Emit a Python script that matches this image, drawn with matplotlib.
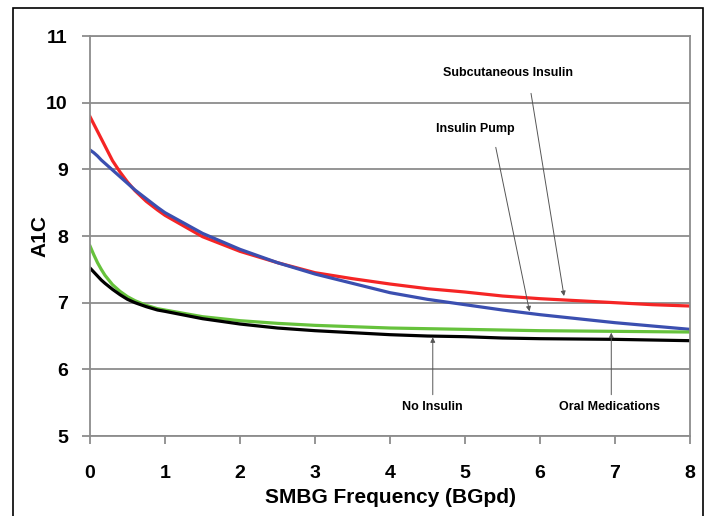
import numpy as np
import matplotlib.pyplot as plt
from matplotlib.patches import Rectangle

plt.rcParams['font.family'] = ['Liberation Sans', 'DejaVu Sans']
plt.rcParams['font.weight'] = 'bold'

# dane
x = [0, 0.05, 0.1, 0.15, 0.2, 0.3, 0.4, 0.5, 0.6, 0.75, 0.9, 1, 1.5, 2, 2.5, 3, 3.5, 4,
     4.5, 5, 5.5, 6, 6.5, 7, 7.5, 8]
subcutaneous = [9.79, 9.68, 9.57, 9.46, 9.35, 9.13, 8.96, 8.81, 8.68, 8.52, 8.39, 8.31,
                7.99, 7.77, 7.6, 7.45, 7.36, 7.28, 7.21, 7.16, 7.1, 7.06, 7.03, 7.0, 6.97, 6.95]
pump = [9.29, 9.25, 9.2, 9.14, 9.09, 8.99, 8.89, 8.79, 8.69, 8.56, 8.43, 8.35,
        8.04, 7.8, 7.6, 7.43, 7.29, 7.15, 7.05, 6.97, 6.89, 6.82, 6.76, 6.7, 6.65, 6.6]
oral = [7.85, 7.72, 7.6, 7.5, 7.41, 7.27, 7.17, 7.09, 7.03, 6.96, 6.91, 6.89,
        6.79, 6.73, 6.69, 6.66, 6.64, 6.62, 6.61, 6.6, 6.59, 6.58, 6.575, 6.57, 6.565, 6.56]
no_insulin = [7.52, 7.46, 7.4, 7.34, 7.29, 7.2, 7.12, 7.05, 7.0, 6.94, 6.89, 6.87,
              6.76, 6.68, 6.62, 6.58, 6.55, 6.52, 6.5, 6.49, 6.47, 6.46, 6.455, 6.45, 6.44, 6.43]

labels = ['Subcutaneous Insulin', 'Insulin Pump', 'No Insulin', 'Oral Medications']
label_xy = [(5.57, 10.45), (5.14, 9.6), (4.57, 5.44), (6.92, 5.44)]
arrow_start = [(5.88, 10.14), (5.41, 9.33), (4.57, 5.62), (6.95, 5.62)]
arrow_tip = [(6.32, 7.1), (5.86, 6.87), (4.57, 6.48), (6.95, 6.55)]

fig = plt.figure(figsize=(7.11, 5.16), dpi=100)
ax = fig.add_axes([0.1266, 0.155, 0.8439, 0.7752])

# ramka wokół całego rysunku
fig.patches.append(Rectangle((0.018, -0.05), 0.9705, 1.0345, transform=fig.transFigure,
                             fill=False, edgecolor='black', linewidth=1.2))

ax.plot(x, subcutaneous, color='#f52525', lw=2.3)
ax.plot(x, pump, color='#3b4fb0', lw=2.3)
ax.plot(x, oral, color='#66c23c', lw=2.3)
ax.plot(x, no_insulin, color='black', lw=2.3)

for txt, pos, start, tip in zip(labels, label_xy, arrow_start, arrow_tip):
    ax.text(pos[0], pos[1], txt, ha='center', va='center', fontsize=9, fontweight='bold')
    ax.annotate('', xy=tip, xytext=start,
                arrowprops=dict(arrowstyle='-|>', color='#555555', lw=0.7,
                                mutation_scale=7, shrinkA=0, shrinkB=0))

ax.set_xlim(0, 8)
ax.set_ylim(5, 11)
ax.set_xticks(range(0, 9))
ax.set_yticks(range(5, 12))
ax.yaxis.grid(True, color='#8c8c8c', lw=1.3)
ax.set_axisbelow(True)
for s in ['left', 'right', 'bottom', 'top']:
    ax.spines[s].set_color('#8c8c8c')
    ax.spines[s].set_linewidth(1.3)
ax.tick_params(axis='both', color='#8c8c8c', width=1.3, length=6, labelsize=14)
ax.tick_params(axis='x', pad=15)
ax.tick_params(axis='y', pad=10)

ax.set_xlabel('SMBG Frequency (BGpd)', fontsize=15, fontweight='bold', labelpad=4)
ax.set_ylabel('A1C', fontsize=15, fontweight='bold')
ax.yaxis.set_label_coords(-0.067, 0.50)

fig.savefig('out.png', dpi=100)
